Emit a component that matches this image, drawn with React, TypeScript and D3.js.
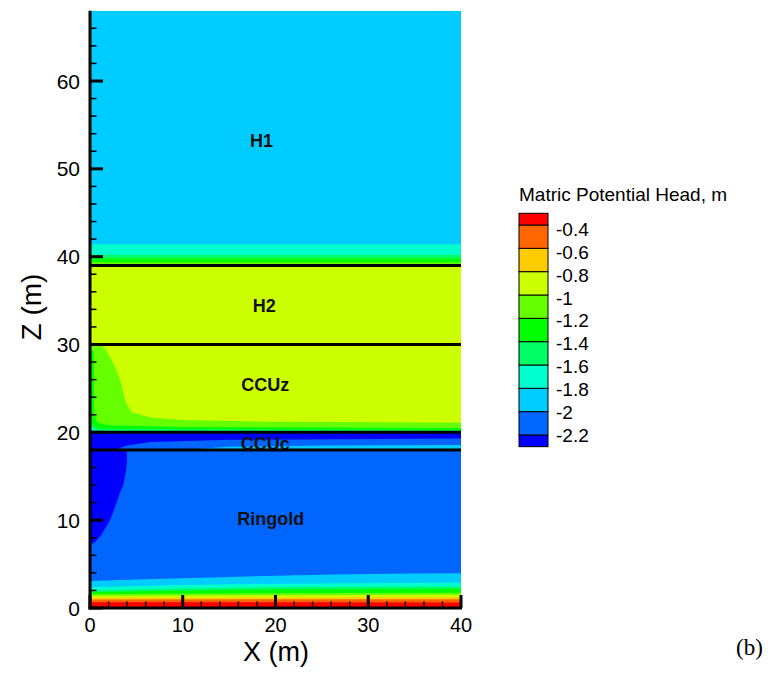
import React from 'react';
import * as d3 from 'd3';

const W = 772;
const H = 679;

// Contour band colours, from lowest level (< -2.2) to highest (> -0.4)
const bandColors = ['#0000ff', '#0066ff', '#00ccff', '#00ffcc', '#00ff66', '#00ff00', '#66ff00', '#ccff00', '#ffcc00', '#ff6600', '#ff0000'];
const legendLevels = ['-0.4', '-0.6', '-0.8', '-1', '-1.2', '-1.4', '-1.6', '-1.8', '-2', '-2.2'];

// Hydrostratigraphic layers
const layerNames = ['Ringold', 'CCUc', 'CCUz', 'H2', 'H1'];
const layerBottom = [0, 18, 20, 30, 39];
const layerTop = [18, 20, 30, 39, 68];
const layerBaseBand = [1, 0, 7, 7, 2];
const labelX = [19.5, 18.9, 18.9, 18.8, 18.5];
const labelZ = [10.2, 18.7, 25.4, 34.4, 53.2];
const boundaryZ = [18, 20, 30, 39];

// Thin transition strips just above the H1/H2 contact
const h1StripBand = [3, 4, 5, 6];
const h1StripTop = [41.4, 40.2, 39.8, 39.35];

// Bottom of Ringold: upper edge of each band (filled from z = 0 upward)
const bottomBand = [2, 3, 4, 5, 6, 7, 8, 9, 10];
const skyTop = [[0, 3.07], [10, 3.38], [20, 3.68], [30, 3.87], [40, 3.95]];
const aquaTop = [[0, 2.35], [15, 2.7], [40, 2.88]];
const springTop = [[0, 2.0], [20, 2.35], [40, 2.45]];
const greenTop = [[0, 1.8], [20, 2.1], [40, 2.15]];
const limeTop = [[0, 1.6], [40, 1.75]];
const yellowGreenTop = [[0, 1.4], [40, 1.5]];
const goldTop = [[0, 1.18], [40, 1.22]];
const orangeTop = [[0, 0.98], [40, 0.99]];
const redTop = [[0, 0.66], [40, 0.62]];
const bottomCurves = [skyTop, aquaTop, springTop, greenTop, limeTop, yellowGreenTop, goldTop, orangeTop, redTop];

// Polygons painted over the layer bases
const ringoldDark = [[0, 18], [3.95, 18], [4.0, 17], [3.9, 15.7], [3.6, 14], [3.2, 13.06], [2.7, 11.5], [2.16, 10], [1.6, 9], [1.08, 8.12], [0.5, 7.5], [0, 7.2]];
const ccucBlue = [[2.6, 18], [4, 18.5], [6.5, 18.9], [15, 19.15], [40, 19.3], [40, 18]];
const ccucSky = [[10, 18], [15, 18.35], [25, 18.5], [40, 18.55], [40, 18]];
const ccuzLime = [[0, 30], [1.2, 30], [1.7, 29.4], [2.3, 28.3], [2.8, 27.2], [3.3, 25.8], [3.5, 24.9], [3.85, 23.4], [4.5, 22.3], [6.5, 21.7], [10, 21.4], [20, 21.2], [40, 21.1], [40, 20], [0, 20]];
const ccuzGreen = [[0, 29.4], [0.4, 29.2], [0.45, 22], [0.8, 21.1], [2, 20.8], [10, 20.6], [40, 20.5], [40, 20], [0, 20]];
const ccuzSpring = [[0, 21], [0.3, 20.8], [1, 20.4], [40, 20.2], [40, 20], [0, 20]];
const ccuzAqua = [[0, 20.6], [0.6, 20.3], [1.5, 20.1], [0, 20]];
const overlayBand = [0, 1, 2, 6, 5, 4, 3];
const overlayPolys = [ringoldDark, ccucBlue, ccucSky, ccuzLime, ccuzGreen, ccuzSpring, ccuzAqua];

const xTicksMajor = [0, 10, 20, 30, 40];
const zTicksMajor = [0, 10, 20, 30, 40, 50, 60];

const FONT = 'Liberation Sans, Arial, Helvetica, sans-serif';

export default function App() {
  const xs = d3.scaleLinear().domain([0, 40]).range([90, 461]);
  const zs = d3.scaleLinear().domain([0, 60]).range([608, 81]);
  const poly = d3.line<number[]>().x(d => xs(d[0])).y(d => zs(d[1]));
  const area = d3.area<number[]>().x(d => xs(d[0])).y0(zs(0)).y1(d => zs(d[1])).curve(d3.curveMonotoneX);

  const minorX = d3.range(0, 41, 2).filter(v => v % 10 !== 0);
  const minorZ = d3.range(0, 67, 2).filter(v => v % 10 !== 0);

  const legX = 519, legW = 29;
  const legTop = 213.3, legFirst = 225, legStep = 23.33;
  const legBottom = legFirst + 9 * legStep + 11.7;
  const legLabelBase0 = 236, legLabelStep = 22.86;

  return (
    <svg width={W} height={H} style={{ position: 'absolute', left: 0, top: 0, background: '#fff' }}>
      <defs>
        <clipPath id="plotclip">
          <rect x={xs(0)} y={zs(68)} width={xs(40) - xs(0)} height={zs(0) - zs(68)} />
        </clipPath>
      </defs>
      <g clipPath="url(#plotclip)">
        {layerNames.map((n, i) => (
          <rect key={'base' + n} x={xs(0)} y={zs(layerTop[i])} width={xs(40) - xs(0)} height={zs(layerBottom[i]) - zs(layerTop[i])} fill={bandColors[layerBaseBand[i]]} />
        ))}
        {h1StripBand.map((b, i) => (
          <rect key={'h1s' + i} x={xs(0)} y={zs(h1StripTop[i])} width={xs(40) - xs(0)} height={zs(39) - zs(h1StripTop[i])} fill={bandColors[b]} />
        ))}
        {bottomCurves.map((c, i) => (
          <path key={'bc' + i} d={area(c) || ''} fill={bandColors[bottomBand[i]]} />
        ))}
        {overlayPolys.map((p, i) => (
          <path key={'ov' + i} d={(poly(p) || '') + 'Z'} fill={bandColors[overlayBand[i]]} />
        ))}
      </g>

      {/* layer labels */}
      {layerNames.map((n, i) => (
        <text key={'lab' + n} x={xs(labelX[i])} y={zs(labelZ[i]) + 6.5} textAnchor="middle" fontFamily={FONT} fontWeight="bold" fontSize={18} fill="#111">{n}</text>
      ))}

      {/* layer boundaries */}
      {boundaryZ.map(z => (
        <line key={'bz' + z} x1={xs(0)} x2={xs(40)} y1={zs(z)} y2={zs(z)} stroke="#000" strokeWidth={3} />
      ))}

      {/* axes */}
      <line x1={xs(0)} x2={xs(0)} y1={zs(68)} y2={zs(0) + 1.5} stroke="#000" strokeWidth={3} />
      <line x1={xs(0) - 1.5} x2={xs(40) + 1} y1={zs(0)} y2={zs(0)} stroke="#000" strokeWidth={3} />
      {xTicksMajor.map(v => (
        <line key={'xM' + v} x1={xs(v)} x2={xs(v)} y1={zs(0)} y2={zs(0) - 13} stroke="#000" strokeWidth={3} />
      ))}
      {minorX.map(v => (
        <line key={'xm' + v} x1={xs(v)} x2={xs(v)} y1={zs(0)} y2={zs(0) - 6.5} stroke="#000" strokeWidth={1.5} />
      ))}
      {zTicksMajor.map(v => (
        <line key={'zM' + v} x1={xs(0)} x2={xs(0) + 13} y1={zs(v)} y2={zs(v)} stroke="#000" strokeWidth={3} />
      ))}
      {minorZ.map(v => (
        <line key={'zm' + v} x1={xs(0)} x2={xs(0) + 6.5} y1={zs(v)} y2={zs(v)} stroke="#000" strokeWidth={1.5} />
      ))}
      {xTicksMajor.map(v => (
        <text key={'xl' + v} x={xs(v)} y={632} textAnchor="middle" fontFamily={FONT} fontSize={20} fill="#000">{v}</text>
      ))}
      {zTicksMajor.map(v => (
        <text key={'zl' + v} x={80} y={zs(v) + 7.5} textAnchor="end" fontFamily={FONT} fontSize={21} fill="#000">{v}</text>
      ))}
      <text x={276} y={661} textAnchor="middle" fontFamily={FONT} fontSize={27} fill="#000">X (m)</text>
      <text transform={`translate(40.5,307) rotate(-90)`} textAnchor="middle" fontFamily={FONT} fontSize={28} fill="#000">Z (m)</text>

      {/* legend */}
      <text x={legX} y={201} fontFamily={FONT} fontSize={19} fill="#000">Matric Potential Head, m</text>
      {bandColors.map((c, i) => {
        const k = 10 - i; // position from top
        const y0 = k === 0 ? legTop : legFirst + (k - 1) * legStep;
        const y1 = k === 10 ? legBottom : legFirst + k * legStep;
        return <rect key={'lg' + i} x={legX} y={y0} width={legW} height={y1 - y0} fill={c} stroke="#000" strokeWidth={1} />;
      })}
      {legendLevels.map((l, i) => (
        <text key={'ll' + l} x={556} y={legLabelBase0 + i * legLabelStep} fontFamily={FONT} fontSize={19} fill="#000">{l}</text>
      ))}

      <text x={736} y={655} fontFamily="Liberation Serif, Times New Roman, serif" fontSize={23} fill="#000">(b)</text>
    </svg>
  );
}
